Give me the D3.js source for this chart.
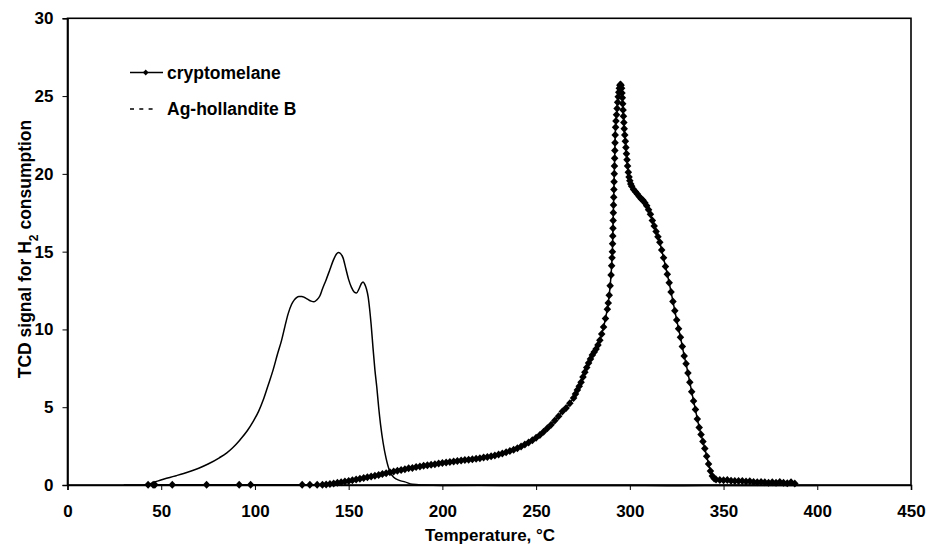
<!DOCTYPE html>
<html>
<head>
<meta charset="utf-8">
<script src="https://cdn.jsdelivr.net/npm/d3@7"></script>
<style>
  html, body { margin: 0; padding: 0; background: #fff; }
  svg { display: block; }
  text { font-family: "Liberation Sans", Arial, sans-serif; font-weight: bold; fill: #000; }
</style>
</head>
<body>
<svg id="chart" width="927" height="545"></svg>
<script>
// Axis ticks
const xTicks = [0, 50, 100, 150, 200, 250, 300, 350, 400, 450];
const yTicks = [0, 5, 10, 15, 20, 25, 30];

// Series names
const seriesNames = ["cryptomelane", "Ag-hollandite B"];

// Cryptomelane: temperature (°C) and TCD signal
const cryptoT = [
  43, 45.7, 46.6, 55.9, 74.2, 91.6, 97.7, 125.2, 129.3, 133.2,
  136, 138, 140, 142, 144, 146, 148, 150, 152, 154, 156, 158, 160, 162, 164, 166, 168, 170,
  172, 174, 176, 178, 180, 182, 184, 186, 188, 190, 192, 194, 196, 198, 200, 202, 204, 206,
  208, 210, 212, 214, 216, 218, 220, 222, 224, 226, 228, 230, 232, 234, 236, 238, 240, 242,
  244, 246, 248, 250, 252, 254, 256, 258, 260, 262, 264, 266, 268, 270, 271, 272, 273, 274,
  275, 276, 277, 278, 279, 280, 281, 282, 283, 284, 285, 286, 287, 288, 288.5, 289, 289.5,
  290, 290.3, 290.5, 290.7, 290.8, 290.9, 291.0, 291.1, 291.2, 291.3, 291.4, 291.5, 291.6,
  291.7, 291.8, 291.9, 292.0, 292.1, 292.2, 292.4, 292.6, 292.9, 293.2, 293.5, 293.8, 294.1,
  294.4, 294.7, 295.0, 295.3, 295.6, 295.8, 296.0, 296.2, 296.4, 296.6, 296.8, 297.0, 297.3,
  297.6, 297.9, 298.2, 298.5, 298.8, 299.2, 299.6, 300.0, 300.5, 301, 302, 303, 304, 305,
  306, 307, 308, 309, 310, 311, 312, 313, 314, 315, 316, 317, 318, 319, 320, 321, 322, 323,
  324, 325, 326, 327, 328, 329, 330, 331, 332, 333, 334, 335, 336, 337, 338, 339, 340, 341,
  342, 343, 344, 345, 346, 348, 350, 352, 354, 356, 358, 360, 362, 364, 366, 368, 370, 372,
  374, 376, 378, 380, 382, 384, 386, 388
];
const cryptoV = [
  0.02, 0.02, 0.02, 0.02, 0.02, 0.02, 0.02, 0.02, 0.02, 0.02,
  0.02, 0.04, 0.07, 0.1, 0.14, 0.18, 0.22, 0.26, 0.3, 0.35, 0.4, 0.45, 0.5, 0.55, 0.6, 0.65, 0.7, 0.76,
  0.82, 0.87, 0.92, 0.97, 1.02, 1.07, 1.1, 1.15, 1.19, 1.23, 1.27, 1.3, 1.34, 1.38, 1.42, 1.45, 1.48, 1.51,
  1.54, 1.57, 1.6, 1.62, 1.65, 1.68, 1.72, 1.76, 1.8, 1.85, 1.9, 1.96, 2.03, 2.1, 2.18, 2.27, 2.37, 2.48,
  2.6, 2.73, 2.88, 3.04, 3.22, 3.42, 3.64, 3.88, 4.14, 4.42, 4.72, 4.95, 5.25, 5.6, 5.85, 6.1, 6.35, 6.6,
  6.95, 7.25, 7.55, 7.85, 8.1, 8.35, 8.55, 8.75, 9.0, 9.3, 9.7, 10.15, 10.7, 11.3, 11.7, 12.2, 12.8,
  13.5, 14.1, 14.6, 15.0, 15.5, 16.0, 16.5, 17.0, 17.5, 18.0, 18.5, 19.0, 19.5,
  20.0, 20.5, 21.0, 21.5, 22.0, 22.5, 23.0, 23.4, 23.8, 24.2, 24.6, 24.95, 25.25,
  25.5, 25.7, 25.75, 25.7, 25.5, 25.2, 24.9, 24.5, 24.1, 23.7, 23.3, 22.9, 22.5,
  22.1, 21.7, 21.3, 20.9, 20.5, 20.1, 19.8, 19.55, 19.35, 19.2, 19.0, 18.85, 18.7, 18.55,
  18.4, 18.3, 18.15, 17.95, 17.7, 17.4, 17.0, 16.65, 16.3, 15.95, 15.6, 15.1, 14.6, 14.05, 13.55, 13.0, 12.4, 11.8,
  11.2, 10.6, 10.05, 9.5, 8.9, 8.3, 7.8, 7.2, 6.6, 6.0, 5.4, 4.85, 4.25, 3.7, 3.25, 2.8, 2.35, 1.85,
  1.35, 0.9, 0.58, 0.42, 0.36, 0.32, 0.3, 0.32, 0.28, 0.26, 0.25, 0.25, 0.22, 0.24, 0.2, 0.18, 0.2, 0.18,
  0.15, 0.18, 0.14, 0.2, 0.15, 0.12, 0.18, 0.1
];

// Ag-hollandite B: temperature (°C) and TCD signal
const agT = [
  30, 35, 40, 43, 45, 48, 52, 55, 58, 62, 66, 70, 75, 81, 85, 88, 92, 96, 99, 102, 104.4, 107, 109.7,
  112, 114.2, 116, 117.7, 119.5, 121, 122.2, 123.5, 125, 126.5, 128, 130, 131.5, 133, 134.6,
  136, 138, 140, 142, 143.5, 144.5, 145.5, 147, 148.5, 150, 151.5, 153, 154.2, 155.5, 156.8,
  157.7, 158.6, 159.5, 160.4, 161.2, 162, 163, 164, 165, 166, 167, 168.4, 170, 172, 174, 177,
  180, 184, 190, 200, 220, 240, 260, 280, 300, 320, 340, 360, 380, 400
];
const agV = [
  0, 0, 0, 0.05, 0.12, 0.25, 0.4, 0.5, 0.6, 0.74, 0.9, 1.08, 1.35, 1.75, 2.07, 2.38, 2.9, 3.5, 4.07, 4.75, 5.46, 6.4, 7.4,
  8.4, 9.3, 10.2, 11.0, 11.6, 11.9, 12.05, 12.12, 12.12, 12.05, 11.95, 11.82, 11.78, 11.9, 12.15,
  12.6, 13.2, 13.85, 14.5, 14.85, 14.95, 14.9, 14.6, 13.9, 13.2, 12.7, 12.4, 12.35, 12.6, 12.95,
  13.05, 12.9, 12.6, 12.1, 11.3, 10.3, 8.8, 7.4, 6.3, 5.0, 3.9, 2.7, 1.7, 0.86, 0.5, 0.3,
  0.2, 0.05, 0, -0.03, -0.02, -0.04, -0.03, -0.04, -0.03, -0.05, -0.03, -0.04, -0.03, -0.04
];

const crypto = cryptoT.map((t, i) => ({ t, v: cryptoV[i] }));
const ag = agT.map((t, i) => ({ t, v: agV[i] }));

const svg = d3.select("#chart");
const plotL = 67.5, plotR = 911, plotT = 18.3, plotB = 485;

const x = d3.scaleLinear().domain([0, 450]).range([plotL, plotR]);
const y = d3.scaleLinear().domain([0, 30]).range([plotB, plotT]);

// Plot frame
svg.append("rect")
  .attr("x", plotL).attr("y", plotT)
  .attr("width", plotR - plotL).attr("height", plotB - plotT)
  .attr("fill", "none").attr("stroke", "#000").attr("stroke-width", 1.6);

// Axes
const xAxis = svg.append("g")
  .attr("transform", `translate(0,${plotB})`)
  .call(d3.axisBottom(x).tickValues(xTicks).tickSize(5).tickPadding(15).tickFormat(d3.format("d")));
const yAxis = svg.append("g")
  .attr("transform", `translate(${plotL},0)`)
  .call(d3.axisLeft(y).tickValues(yTicks).tickSize(5).tickPadding(9).tickFormat(d3.format("d")));
[xAxis, yAxis].forEach(g => {
  g.select(".domain").attr("stroke", "#000").attr("stroke-width", 1.6);
  g.selectAll(".tick line").attr("stroke", "#000").attr("stroke-width", 1);
  g.selectAll(".tick text")
    .style("font-family", '"Liberation Sans", Arial, sans-serif')
    .style("font-weight", "bold")
    .style("font-size", "17px")
    .attr("fill", "#000");
});

// Axis titles
svg.append("text")
  .attr("x", 490).attr("y", 540.5)
  .attr("text-anchor", "middle")
  .style("font-size", "17px")
  .text("Temperature, °C");

const yTitle = svg.append("text")
  .attr("transform", "translate(31,249) rotate(-90)")
  .attr("text-anchor", "middle")
  .style("font-size", "17.5px");
yTitle.append("tspan").text("TCD signal for H");
yTitle.append("tspan").attr("baseline-shift", "sub").style("font-size", "12px").text("2");
yTitle.append("tspan").text(" consumption");

// Diamond marker: size is the square of the marker height
const diamond = {
  draw(ctx, size) {
    const h = Math.sqrt(size) / 2, w = h * 0.94;
    ctx.moveTo(0, -h); ctx.lineTo(w, 0); ctx.lineTo(0, h); ctx.lineTo(-w, 0); ctx.closePath();
  }
};

const line = d3.line().x(d => x(d.t)).y(d => y(d.v));

// Ag-hollandite B
svg.append("path")
  .datum(ag)
  .attr("d", line.curve(d3.curveMonotoneX))
  .attr("fill", "none")
  .attr("stroke", "#000")
  .attr("stroke-width", 1.5)
  .attr("stroke-linejoin", "round");

// Cryptomelane
svg.append("path")
  .datum(crypto)
  .attr("d", line.curve(d3.curveLinear))
  .attr("fill", "none")
  .attr("stroke", "#000")
  .attr("stroke-width", 1.5);

svg.append("g")
  .selectAll("path")
  .data(crypto)
  .join("path")
  .attr("transform", d => `translate(${x(d.t)},${y(d.v)})`)
  .attr("d", d3.symbol().type(diamond).size(64))
  .attr("fill", "#000");

// Legend
const legend = svg.append("g");
legend.append("line")
  .attr("x1", 130).attr("x2", 163).attr("y1", 72.5).attr("y2", 72.5)
  .attr("stroke", "#000").attr("stroke-width", 1.5);
legend.append("path")
  .attr("transform", "translate(145.7,72.5)")
  .attr("d", d3.symbol().type(diamond).size(36))
  .attr("fill", "#000");
legend.append("text")
  .attr("x", 167).attr("y", 79)
  .style("font-size", "17.5px")
  .text(seriesNames[0]);

legend.append("line")
  .attr("x1", 130).attr("x2", 153).attr("y1", 109).attr("y2", 109)
  .attr("stroke", "#000").attr("stroke-width", 1.5)
  .attr("stroke-dasharray", "4,5.3");
legend.append("text")
  .attr("x", 167).attr("y", 115)
  .style("font-size", "17.5px")
  .text(seriesNames[1]);
</script>
</body>
</html>
